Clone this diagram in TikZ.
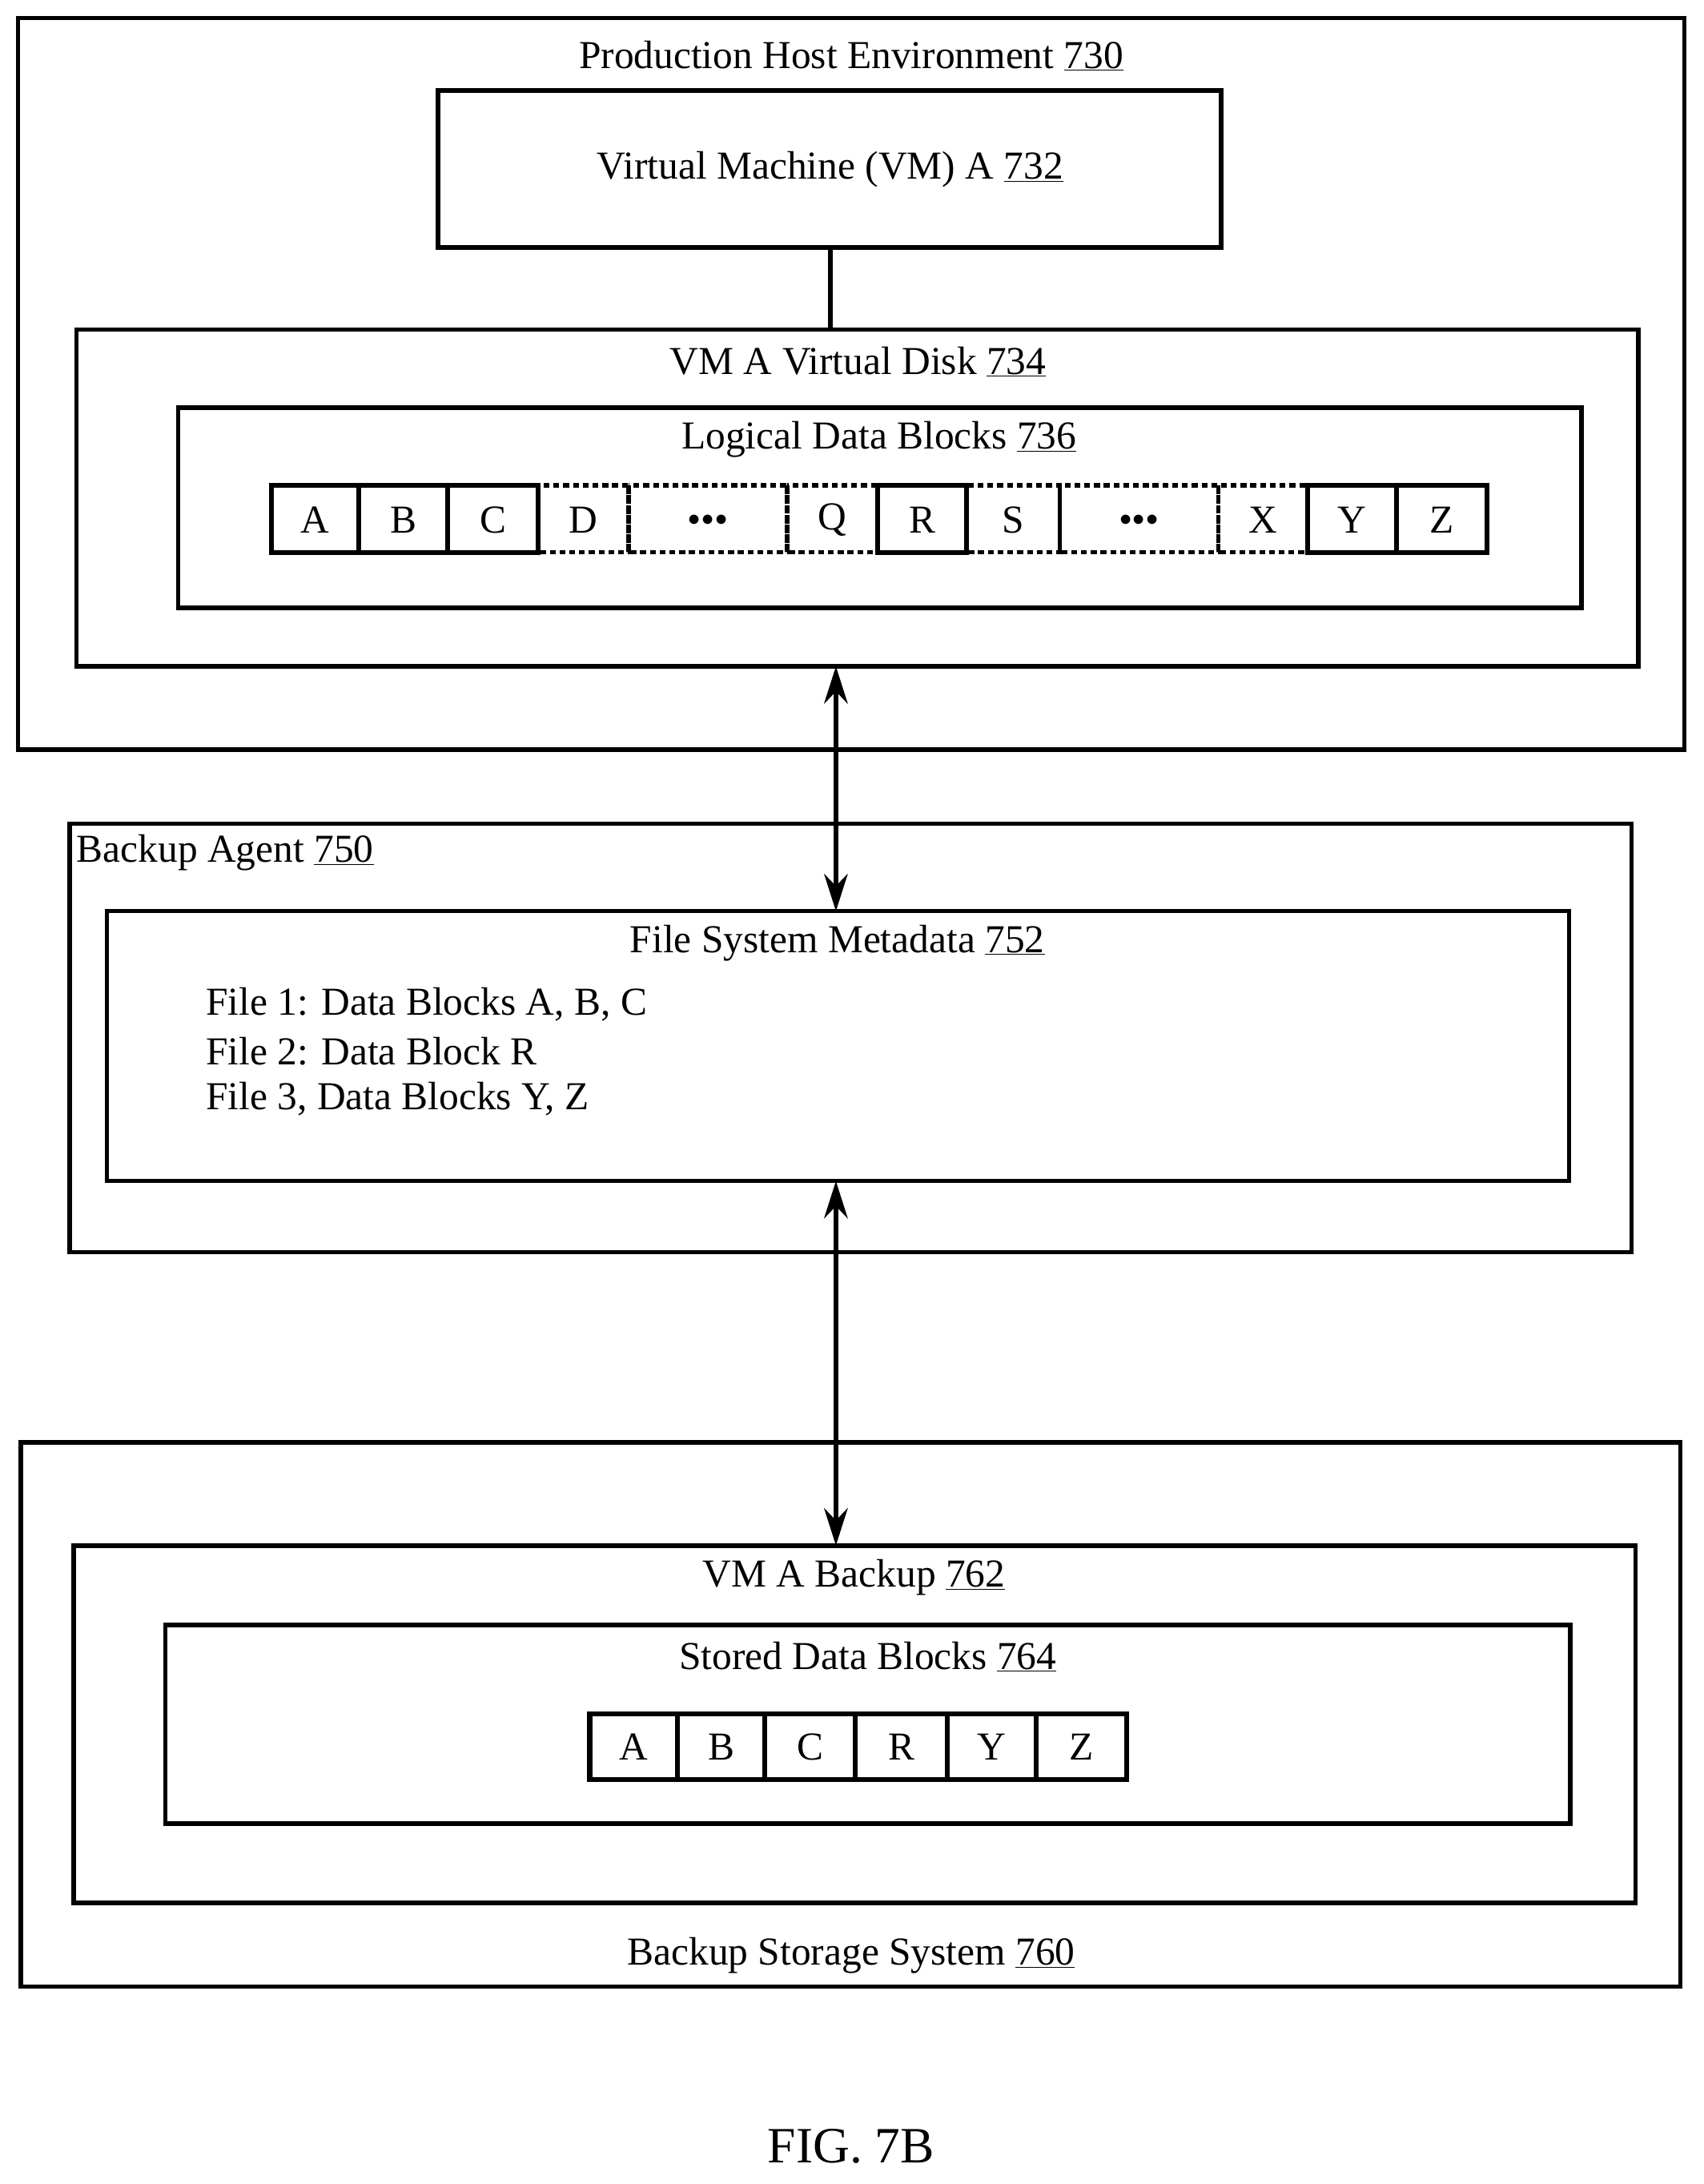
\documentclass[tikz,border=0pt]{standalone}
\usepackage{fontspec}
\setmainfont{Liberation Serif}
\usetikzlibrary{arrows.meta}
\begin{document}
\begin{tikzpicture}[x=0.05cm,y=-0.05cm,
  box/.style={draw,line width=4.5pt},
  cell/.style={draw,line width=5pt},
  dcell/.style={draw,line width=4.5pt,dash pattern=on 6pt off 4pt},
  txt/.style={font=\fontsize{40.5}{48}\selectfont,inner sep=0pt},
  arr/.style={line width=5.5pt,{Stealth[length=38pt,width=24pt]}-{Stealth[length=38pt,width=24pt]}}]
\useasboundingbox (0,0) rectangle (1225,1570);
% Production host
\draw[box] (13,13) rectangle (1211,539);
\node[txt] (t730) at (612,40) {Production Host Environment \underline{730}};
\draw[box] (315,65) rectangle (878,178);
\node[txt] (vm) at (597,122) {Virtual Machine (VM) A \underline{732}};
\coordinate (vmb) at (597,178);
\coordinate (vdt) at (597,237);
\draw[line width=4.5pt] (vmb) -- (vdt);
\draw[box] (55,237) rectangle (1178,479);
\node[txt] (t734) at (617,260) {VM A Virtual Disk \underline{734}};
\draw[box] (128,293) rectangle (1137,437);
\node[txt] (t736) at (632,316) {Logical Data Blocks \underline{736}};
% cells
\foreach \a/\b/\l/\s in {195/258/A/cell,258/322/B/cell,322/387/C/cell,387/452/D/dcell,452/566/{$\bullet\!\bullet\!\bullet$}/dcell,566/631/Q/dcell,631/695/R/cell,695/762/S/dcell,762/876/{$\bullet\!\bullet\!\bullet$}/dcell,876/940/X/dcell,940/1004/Y/cell,1004/1069/Z/cell}{
  \draw[\s] (\a,349) rectangle (\b,397);
  \node[txt] at ({(\a+\b)/2},374) {\l};
}
\foreach \a/\b in {195/258,258/322,322/387,631/695,940/1004,1004/1069}{\draw[cell] (\a,349) rectangle (\b,397);}
% backup agent
\draw[box] (50,592) rectangle (1173,900);
\node[txt,anchor=west] (t750) at (55,613) {Backup Agent \underline{750}};
\draw[box] (77,655) rectangle (1128,849);
\node[txt] (t752) at (602,678) {File System Metadata \underline{752}};
\node[txt,anchor=west] at (148,722) {File 1: Data Blocks A, B, C};
\node[txt,anchor=west] at (148,756) {File 2: Data Block R};
\node[txt,anchor=west] at (148,790) {File 3, Data Blocks Y, Z};
\coordinate (a1) at (601,479);
\coordinate (a2) at (601,655);
\coordinate (a3) at (601,849);
\coordinate (a4) at (601,1111);
\draw[arr] (a1) -- (a2);
\draw[arr] (a3) -- (a4);
% backup storage
\draw[box] (15,1037) rectangle (1208,1428);
\node[txt] (t760) at (612,1406) {Backup Storage System \underline{760}};
\draw[box] (53,1111) rectangle (1176,1368);
\node[txt] (t762) at (614,1134) {VM A Backup \underline{762}};
\draw[box] (119,1168) rectangle (1129,1311);
\node[txt] (t764) at (624,1191) {Stored Data Blocks \underline{764}};
\foreach \a/\b/\l in {424/487/A,487/550/B,550/615/C,615/681/R,681/745/Y,745/810/Z}{
  \draw[cell] (\a,1232) rectangle (\b,1279);
  \node[txt] at ({(\a+\b)/2},1256) {\l};
}
\node[font=\fontsize{52}{60}\selectfont,inner sep=0pt] (fig) at (612,1543) {FIG. 7B};
\end{tikzpicture}
\end{document}
